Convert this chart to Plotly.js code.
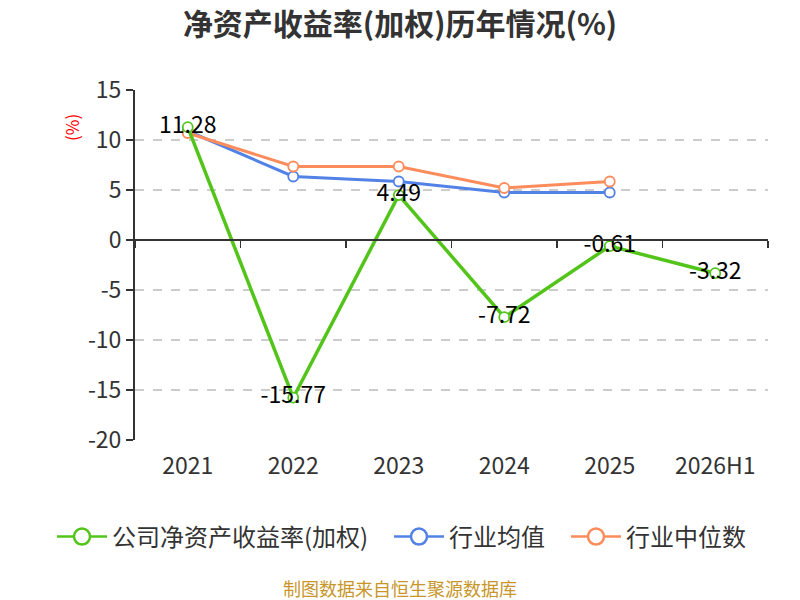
<!DOCTYPE html>
<html>
<head>
<meta charset="utf-8">
<script src="https://cdn.plot.ly/plotly-3.0.1.min.js"></script>
<style>html,body{margin:0;padding:0;background:#fff;}#chart{width:800px;height:600px;}</style>
</head>
<body>
<div id="chart"></div>
<script>
var categories = ["2021", "2022", "2023", "2024", "2025", "2026H1"];
var companyROE = [11.28, -15.77, 4.49, -7.72, -0.61, -3.32];
var industryAvg = [10.9, 6.35, 5.85, 4.75, 4.75];
var industryMedian = [10.7, 7.35, 7.35, 5.2, 5.85];
var yTickVals = [-20, -15, -10, -5, 0, 5, 10, 15];
var yTickText = ["-20", "-15", "-10", "-5", "0", "5", "10", "15"];
var companyLabels = companyROE.map(function(v){ return v.toFixed(2); });
var seriesNames = ["公司净资产收益率(加权)", "行业均值", "行业中位数"];
var colors = ["#52c41a", "#5282e6", "#fd8c5c"];

var font = "Noto Sans CJK SC, Microsoft YaHei, sans-serif";
var yMin = -20, yMax = 15;
var L = 135, PW = 633;

var traces = [
  {x: categories.slice(0, industryAvg.length), y: industryAvg, type: "scatter", mode: "lines+markers",
   line: {color: colors[1], width: 3}, marker: {size: 10, color: "#fff", line: {color: colors[1], width: 1.8}},
   showlegend: false, hoverinfo: "skip"},
  {x: categories.slice(0, industryMedian.length), y: industryMedian, type: "scatter", mode: "lines+markers",
   line: {color: colors[2], width: 3}, marker: {size: 10, color: "#fff", line: {color: colors[2], width: 1.8}},
   showlegend: false, hoverinfo: "skip"},
  {x: categories, y: companyROE, type: "scatter", mode: "lines+markers+text",
   text: companyLabels, textposition: "middle center", textfont: {family: font, size: 23, color: "#000"},
   line: {color: colors[0], width: 3.5}, marker: {size: 10, color: "#fff", line: {color: colors[0], width: 1.8}},
   showlegend: false, hoverinfo: "skip"},
  // invisible trace for the zero axis with boundary ticks
  {x: categories, y: companyROE, xaxis: "x2", type: "scatter", mode: "markers",
   marker: {opacity: 0}, showlegend: false, hoverinfo: "skip"}
];
// legend entries, one legend each
var legendIds = ["legend", "legend2", "legend3"];
for (var i = 0; i < 3; i++) {
  traces.push({x: [null], y: [null], type: "scatter", mode: "lines+markers", name: seriesNames[i],
    legend: legendIds[i],
    line: {color: colors[i], width: 2.5}, marker: {size: 20, color: "#fff", line: {color: colors[i], width: 2.5}},
    hoverinfo: "skip"});
}

function legendAt(px) {
  return {orientation: "h", x: (px - L) / PW, xanchor: "left", y: (440 - 537) / 350, yanchor: "middle",
          font: {family: font, size: 24, color: "#333"}, itemwidth: 50, bgcolor: "rgba(0,0,0,0)"};
}

var layout = {
  width: 800, height: 600,
  margin: {l: L, r: 32, t: 90, b: 160},
  paper_bgcolor: "#fff", plot_bgcolor: "#fff",
  font: {family: font, color: "#333"},
  title: {text: "<b>净资产收益率(加权)历年情况(%)</b>", font: {family: font, size: 30, color: "#333"},
          x: 0.5, xanchor: "center", y: 0.96, yanchor: "middle"},
  xaxis: {type: "category", categoryarray: categories, range: [-0.5, 5.5],
          showline: false, showgrid: false, zeroline: false, ticks: "",
          tickfont: {family: font, size: 23, color: "#333"}, ticklabelstandoff: 10},
  xaxis2: {type: "category", categoryarray: categories, range: [-0.5, 5.5], overlaying: "x",
           anchor: "free", position: (0 - yMin) / (yMax - yMin),
           showline: true, linecolor: "#333", linewidth: 2, showgrid: false, zeroline: false,
           ticks: "outside", tickson: "boundaries", ticklen: 7, tickwidth: 1.5, tickcolor: "#333",
           showticklabels: false},
  yaxis: {range: [yMin, yMax], tickmode: "array", tickvals: yTickVals, ticktext: yTickText,
          showline: true, linecolor: "#333", linewidth: 2,
          ticks: "outside", ticklen: 7, tickwidth: 1.5, tickcolor: "#333",
          showgrid: true, gridcolor: "#cccccc", griddash: "dash", gridwidth: 1.2,
          zeroline: false, tickfont: {family: font, size: 23, color: "#333"}},
  legend: legendAt(52),
  legend2: legendAt(389),
  legend3: legendAt(566),
  annotations: [
    {text: "(%)", xref: "paper", yref: "paper", x: (72 - L) / PW, y: (440 - 128) / 350,
     xanchor: "center", yanchor: "middle",
     textangle: -90, showarrow: false, font: {family: font, size: 17, color: "#ff0000"}},
    {text: "制图数据来自恒生聚源数据库", xref: "paper", yref: "paper", x: (400 - L) / PW,
     y: (440 - 588) / 350, xanchor: "center", yanchor: "middle", showarrow: false,
     font: {family: font, size: 18, color: "#c8962a"}}
  ]
};

Plotly.newPlot("chart", traces, layout, {displayModeBar: false, staticPlot: true});
</script>
</body>
</html>
